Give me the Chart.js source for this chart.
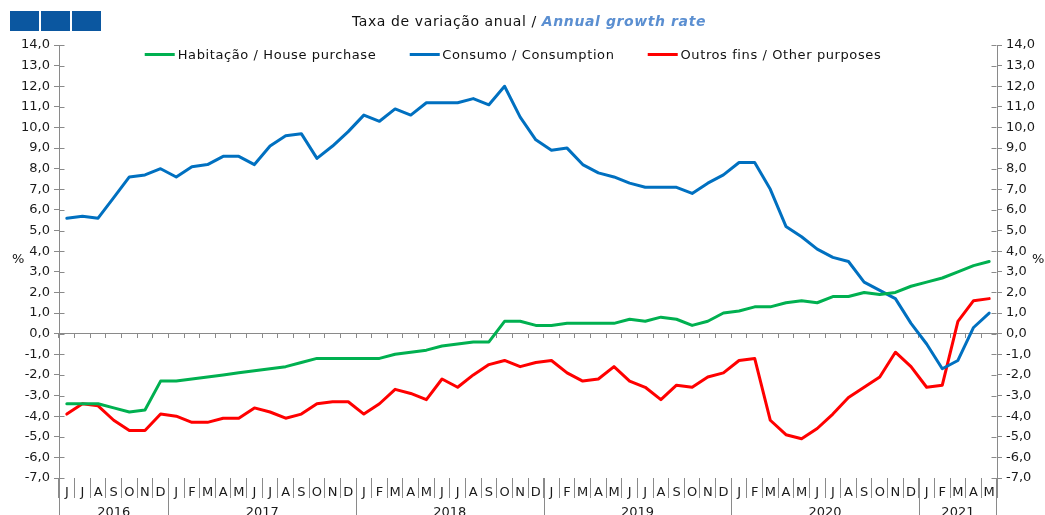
<!DOCTYPE html>
<html>
<head>
<meta charset="utf-8">
<script src="https://cdn.jsdelivr.net/npm/chart.js@4.4.1/dist/chart.umd.min.js"></script>
<style>
  body { margin: 0; background: #fff; font-family: "DejaVu Sans", Arial, sans-serif; }
  #wrap { position: relative; width: 1045px; height: 515px; overflow: hidden; }
  #chart { position: absolute; left: 0; top: 0; }
  .sq { position: absolute; top: 11px; width: 29px; height: 20px; background: #0b57a0; }
  #title { position: absolute; top: 13px; left: 529px; transform: translateX(-50%); font-size: 14px; letter-spacing: 0.6px; color: #111; white-space: nowrap; }
  #title b { color: #5b8fd1; font-style: italic; }
  #legend { position: absolute; top: 47px; left: 513px; transform: translateX(-50%); display: flex; white-space: nowrap; font-size: 13px; letter-spacing: 0.6px; color: #111; }
  .item { display: flex; align-items: center; margin-right: 33px; }
  .item:last-child { margin-right: 0; }
  .swatch { width: 30px; height: 3px; margin-right: 3px; }
  .pct { position: absolute; top: 251px; font-size: 13px; color: #111; }
</style>
</head>
<body>
<div id="wrap">
  <canvas id="chart" width="1045" height="515"></canvas>
  <div class="sq" style="left:10px"></div>
  <div class="sq" style="left:41px"></div>
  <div class="sq" style="left:72px"></div>
  <div id="title">Taxa de variação anual / <b>Annual growth rate</b></div>
  <div id="legend"></div>
  <div class="pct" style="left:12px">%</div>
  <div class="pct" style="left:1032px">%</div>
</div>
<script>
const months = [
  "J", "J", "A", "S", "O", "N", "D",
  "J", "F", "M", "A", "M", "J", "J", "A", "S", "O", "N", "D",
  "J", "F", "M", "A", "M", "J", "J", "A", "S", "O", "N", "D",
  "J", "F", "M", "A", "M", "J", "J", "A", "S", "O", "N", "D",
  "J", "F", "M", "A", "M", "J", "J", "A", "S", "O", "N", "D",
  "J", "F", "M", "A", "M"
];
const yearLabels = ["2016", "2017", "2018", "2019", "2020", "2021"];
const yearMonths = [7, 12, 12, 12, 12, 5];

const housePurchase = [
  -3.4, -3.4, -3.4, -3.6, -3.8, -3.7, -2.3,
  -2.3, -2.2, -2.1, -2.0, -1.9, -1.8, -1.7, -1.6, -1.4, -1.2, -1.2, -1.2,
  -1.2, -1.2, -1.0, -0.9, -0.8, -0.6, -0.5, -0.4, -0.4, 0.6, 0.6, 0.4,
  0.4, 0.5, 0.5, 0.5, 0.5, 0.7, 0.6, 0.8, 0.7, 0.4, 0.6, 1.0,
  1.1, 1.3, 1.3, 1.5, 1.6, 1.5, 1.8, 1.8, 2.0, 1.9, 2.0, 2.3,
  2.5, 2.7, 3.0, 3.3, 3.5
];
const consumption = [
  5.6, 5.7, 5.6, 6.6, 7.6, 7.7, 8.0,
  7.6, 8.1, 8.2, 8.6, 8.6, 8.2, 9.1, 9.6, 9.7, 8.5, 9.1, 9.8,
  10.6, 10.3, 10.9, 10.6, 11.2, 11.2, 11.2, 11.4, 11.1, 12.0, 10.5, 9.4,
  8.9, 9.0, 8.2, 7.8, 7.6, 7.3, 7.1, 7.1, 7.1, 6.8, 7.3, 7.7,
  8.3, 8.3, 7.0, 5.2, 4.7, 4.1, 3.7, 3.5, 2.5, 2.1, 1.7, 0.5,
  -0.5, -1.7, -1.3, 0.3, 1.0
];
const otherPurposes = [
  -3.9, -3.4, -3.5, -4.2, -4.7, -4.7, -3.9,
  -4.0, -4.3, -4.3, -4.1, -4.1, -3.6, -3.8, -4.1, -3.9, -3.4, -3.3, -3.3,
  -3.9, -3.4, -2.7, -2.9, -3.2, -2.2, -2.6, -2.0, -1.5, -1.3, -1.6, -1.4,
  -1.3, -1.9, -2.3, -2.2, -1.6, -2.3, -2.6, -3.2, -2.5, -2.6, -2.1, -1.9,
  -1.3, -1.2, -4.2, -4.9, -5.1, -4.6, -3.9, -3.1, -2.6, -2.1, -0.9, -1.6,
  -2.6, -2.5, 0.6, 1.6, 1.7
];
const yMin = -7;
const yMax = 14;

const axisColor = "#8a8a8a";
const textColor = "#1a1a1a";
const fontFamily = "'DejaVu Sans', Arial, sans-serif";
const tickFont = { family: fontFamily, size: 13 };

// extra axis bits: inner half of the y ticks, axis lines running down
// through the month labels, year separators and year labels
const axisExtras = {
  id: "axisExtras",
  afterDraw(chart) {
    const { ctx, chartArea, scales } = chart;
    const x = scales.x, y = scales.y;
    const h = chart.height;
    const line = (x1, y1, x2, y2) => {
      ctx.beginPath();
      ctx.moveTo(x1, y1);
      ctx.lineTo(x2, y2);
      ctx.stroke();
    };
    const left = Math.round(chartArea.left) + 0.5;
    const right = Math.round(chartArea.right) - 0.5;
    ctx.save();
    ctx.strokeStyle = axisColor;
    ctx.lineWidth = 1;
    y.ticks.forEach((t, i) => {
      const py = Math.round(y.getPixelForTick(i)) + 0.5;
      line(left, py, left + 5, py);
      line(right - 5, py, right, py);
    });
    line(left, chartArea.bottom, left, h);
    line(right, chartArea.bottom, right, h);

    ctx.fillStyle = textColor;
    ctx.font = "13px " + fontFamily;
    ctx.textAlign = "center";
    ctx.textBaseline = "top";
    let start = 0;
    yearLabels.forEach((yr, k) => {
      const end = start + yearMonths[k];
      const x0 = start === 0 ? chartArea.left : (x.getPixelForValue(start - 1) + x.getPixelForValue(start)) / 2;
      const x1 = end >= months.length ? chartArea.right : (x.getPixelForValue(end - 1) + x.getPixelForValue(end)) / 2;
      if (start > 0) {
        const px = Math.round(x0) + 0.5;
        line(px, chartArea.bottom, px, h);
      }
      ctx.fillText(yr, (x0 + x1) / 2, 506);
      start = end;
    });
    ctx.restore();
  }
};

const yAxis = (pos, w) => ({
  position: pos,
  min: yMin,
  max: yMax,
  ticks: {
    stepSize: 1,
    padding: 4,
    color: textColor,
    font: tickFont,
    callback: (v) => v.toFixed(1).replace(".", ",")
  },
  grid: { drawOnChartArea: false, tickLength: 5, color: axisColor },
  border: { color: axisColor },
  afterFit(s) {
    s.width = w;
    s.paddingTop = 0;
    s.paddingBottom = 0;
  }
});

const chart = new Chart(document.getElementById("chart"), {
  type: "line",
  data: {
    labels: months,
    datasets: [
      { label: "Habitação / House purchase", data: housePurchase, borderColor: "#00b050" },
      { label: "Consumo / Consumption", data: consumption, borderColor: "#0070c0" },
      { label: "Outros fins / Other purposes", data: otherPurposes, borderColor: "#ff0000" }
    ]
  },
  options: {
    responsive: false,
    animation: false,
    layout: { padding: { top: 45, left: 0, right: 0, bottom: 0 } },
    elements: {
      line: { borderWidth: 3, tension: 0, borderCapStyle: "round", borderJoinStyle: "round" },
      point: { radius: 0 }
    },
    plugins: {
      legend: { display: false },
      tooltip: { enabled: false }
    },
    scales: {
      x: {
        position: "bottom",
        offset: true,
        grid: { offset: true, drawOnChartArea: false, tickLength: 20, color: axisColor },
        border: { display: false },
        ticks: { autoSkip: false, maxRotation: 0, padding: -13, color: textColor, font: tickFont },
        afterFit(s) {
          s.height = 37;
          s.paddingLeft = 0;
          s.paddingRight = 0;
        }
      },
      xz: {
        type: "category",
        position: { y: 0 },
        offset: true,
        grid: { offset: true, drawOnChartArea: false, tickLength: 4, color: axisColor },
        border: { color: axisColor },
        ticks: { display: false },
        afterFit(s) {
          s.height = 0;
          s.paddingLeft = 0;
          s.paddingRight = 0;
        }
      },
      y: yAxis("left", 59),
      y2: yAxis("right", 48)
    }
  },
  plugins: [axisExtras]
});

// legend built from the datasets
const legend = document.getElementById("legend");
chart.data.datasets.forEach((ds) => {
  const item = document.createElement("div");
  item.className = "item";
  const sw = document.createElement("span");
  sw.className = "swatch";
  sw.style.background = ds.borderColor;
  const txt = document.createElement("span");
  txt.innerText = ds.label;
  item.append(sw, txt);
  legend.appendChild(item);
});
</script>
</body>
</html>
